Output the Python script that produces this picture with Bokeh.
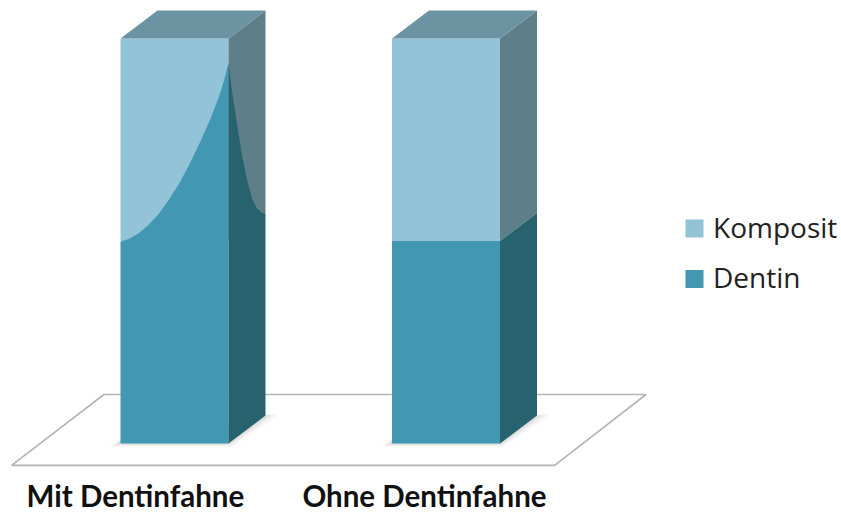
from bokeh.core.properties import value
from bokeh.embed import file_html
from bokeh.models import Range1d
from bokeh.plotting import figure
from bokeh.resources import INLINE

# Stacked shares per group
categories = ["Mit Dentinfahne", "Ohne Dentinfahne"]
series_names = ["Komposit", "Dentin"]
dentin = [50, 50]
komposit = [50, 50]

# Outline of the dentin flag on the first column: share of width or depth, stack level
flag_front_across = [0.0, 0.077, 0.169, 0.262, 0.355, 0.447, 0.54, 0.632, 0.741, 0.833, 0.91, 0.956, 1.0]
flag_front_level = [49.9, 50.5, 51.9, 54.0, 56.7, 60.1, 64.0, 68.6, 74.6, 80.2, 85.5, 89.4, 94.0]
flag_side_depth = [0.0, 0.1, 0.235, 0.37, 0.505, 0.64, 0.776, 0.91, 1.0]
flag_side_level = [94.0, 86.0, 76.9, 68.5, 61.5, 56.0, 52.6, 50.6, 49.9]

FRONT = {"Komposit": "#93c3d6", "Dentin": "#4297b2"}
SIDE = {"Komposit": "#5e7f8a", "Dentin": "#28626f"}
TOP = "#6b93a2"

X_UNIT = 271.5   # pixels per category step
Y_UNIT = 4.05    # pixels per stack level
BAR_W = 108 / X_UNIT
DX = 37 / X_UNIT
DY = 28 / Y_UNIT

p = figure(
    width=841, height=513, output_backend="svg", toolbar_location=None,
    x_range=Range1d(-174 / X_UNIT, (841 - 174) / X_UNIT),
    y_range=Range1d(-70 / Y_UNIT, 443 / Y_UNIT),
    min_border=0, outline_line_color=None, background_fill_color="white",
)
p.axis.visible = False
p.grid.visible = False

# Floor of the 3D scene
floor_x = [-0.6, 1.40, 1.737, -0.26]
floor_y = [-5.4, -5.4, 12.1, 12.1]
p.patch(floor_x, floor_y, fill_color="white", line_color="#b4b4b4", line_width=1.6)

for i, cat in enumerate(categories):
    x0 = i - BAR_W / 2
    x1 = i + BAR_W / 2
    d = dentin[i]
    t = d + komposit[i]

    # Soft contact shadow around the base of the column
    for g, a in [(12, 0.05), (8, 0.07), (5, 0.09), (2, 0.12)]:
        gx = g / X_UNIT
        gy = g / Y_UNIT
        p.patch(
            [x0 - gx, x1 + 0.3 * gx, x1 + DX + gx, x1 + DX + gx, x1, x0],
            [-0.3 * gy, -0.3 * gy, DY - 0.1 * gy, DY + 0.2 * gy, 5, 1],
            fill_color="#808080", fill_alpha=a, line_color=None,
        )

    # Upper part first, so the lower part can cover the seam
    p.quad(left=x0, right=x1, bottom=d, top=t, fill_color=FRONT["Komposit"], line_color=None)
    p.patch([x1, x1 + DX, x1 + DX, x1], [d, d + DY, t + DY, t],
            fill_color=SIDE["Komposit"], line_color=None)
    # Top face
    p.patch([x0, x1, x1 + DX, x0 + DX], [t, t, t + DY, t + DY],
            fill_color=TOP, line_color=None)

    if i == 0:
        # Dentin flag rises into the composite on the first column
        p.patch(
            [x0 + f * BAR_W for f in flag_front_across] + [x1, x0],
            flag_front_level + [0, 0],
            fill_color=FRONT["Dentin"], line_color=None,
        )
        p.patch(
            [x1 + f * DX for f in flag_side_depth] + [x1 + DX, x1],
            [v + f * DY for v, f in zip(flag_side_level, flag_side_depth)] + [DY, 0],
            fill_color=SIDE["Dentin"], line_color=None,
        )
    else:
        p.quad(left=x0, right=x1, bottom=0, top=d, fill_color=FRONT["Dentin"], line_color=None)
        p.patch([x1, x1 + DX, x1 + DX, x1], [0, DY, d + DY, d],
                fill_color=SIDE["Dentin"], line_color=None)

# Category labels
p.text(
    x=[-0.144, 0.921],
    y=[-12.9, -12.9],
    text=categories,
    text_font=value("Lato"), text_font_style="bold", text_font_size="29.5px",
    text_line_height=1.0,
    text_color="#111111", text_align="center", text_baseline="middle",
)

# Legend
leg_x = (685 - 174) / X_UNIT
leg_w = 18 / X_UNIT
leg_h = 18 / Y_UNIT
leg_top = [(443 - 219) / Y_UNIT, (443 - 269.5) / Y_UNIT]
for name, top in zip(series_names, leg_top):
    p.quad(left=leg_x, right=leg_x + leg_w, top=top, bottom=top - leg_h,
           fill_color=FRONT[name], line_color=None)
    p.text(
        x=[(712.5 - 174) / X_UNIT], y=[top - leg_h / 2 + 0.45], text=[name],
        text_font=value("Open Sans"), text_font_size="28px", text_color="#222222",
        text_align="left", text_baseline="middle",
    )

open("out.html", "w").write(file_html(p, INLINE))
